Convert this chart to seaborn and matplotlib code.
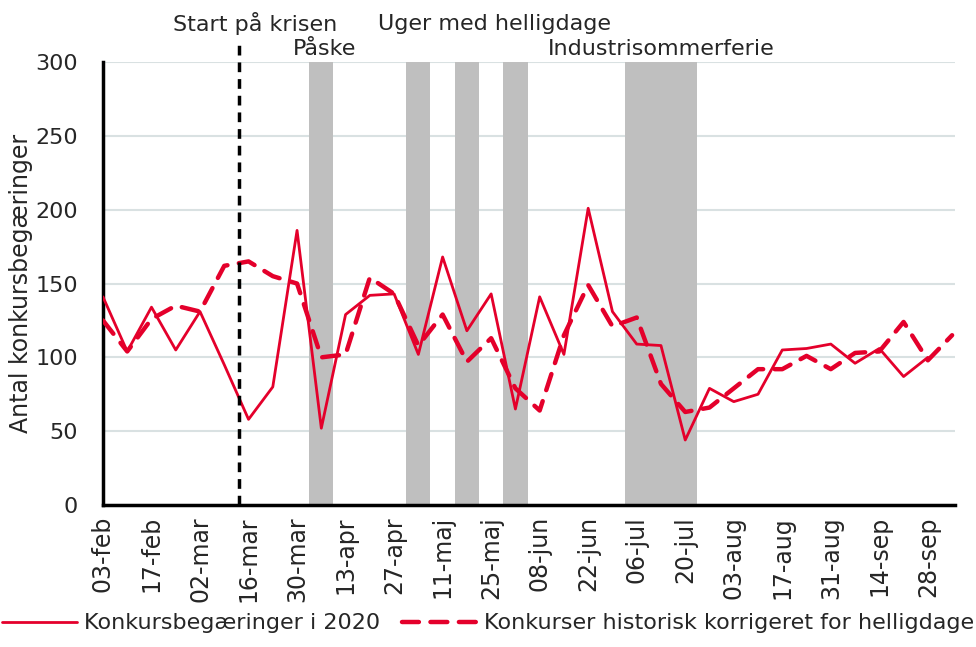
import numpy as np
import pandas as pd
import matplotlib
matplotlib.use("Agg")
import matplotlib.pyplot as plt
import matplotlib.transforms as mtransforms
import seaborn as sns
from matplotlib.lines import Line2D

weeks = ["03-feb", "10-feb", "17-feb", "24-feb", "02-mar", "09-mar", "16-mar", "23-mar",
         "30-mar", "06-apr", "13-apr", "20-apr", "27-apr", "04-maj", "11-maj", "18-maj",
         "25-maj", "01-jun", "08-jun", "15-jun", "22-jun", "29-jun", "06-jul", "13-jul",
         "20-jul", "27-jul", "03-aug", "10-aug", "17-aug", "24-aug", "31-aug", "07-sep",
         "14-sep", "21-sep", "28-sep", "05-okt"]

konkurs_2020 = [141, 104, 134, 105, 131, 95, 58, 80, 186, 52, 129, 142, 143, 102, 168, 118,
                143, 65, 141, 102, 201, 131, 109, 108, 44, 79, 70, 75, 105, 106, 109, 96,
                106, 87, 100]

historisk = [125, 104, 126, 135, 131, 162, 165, 155, 150, 100, 102, 154, 143, 108, 129, 97,
             113, 79, 64, 115, 149, 121, 127, 82, 63, 66, 79, 92, 92, 101, 92, 103,
             104, 124, 98, 115]

paaske_weeks = ["06-apr"]
helligdag_weeks = ["04-maj", "18-maj", "01-jun"]
sommerferie_weeks = ["06-jul", "13-jul", "20-jul"]
krise_start = 5.6  # week position (13-mar)

label_solid = "Konkursbegæringer i 2020"
label_dash = "Konkurser historisk korrigeret for helligdage"

sns.set_style("white")
plt.rcParams['font.family'] = ['DejaVu Sans']

idx = {w: i for i, w in enumerate(weeks)}
df = pd.DataFrame({
    "pos": list(range(len(konkurs_2020))) + list(range(len(historisk))),
    "værdi": konkurs_2020 + historisk,
    "serie": [label_solid] * len(konkurs_2020) + [label_dash] * len(historisk),
})

fig = plt.figure(figsize=(9.76, 6.47), dpi=100)
ax = fig.add_axes([0.1055, 0.2195, 0.8725, 0.6845])

red = "#E4002B"
grey = "#BFBFBF"
dash_pat = (3.8, 2.6)

# shaded holiday weeks
band_pos = [idx[w] for w in paaske_weeks + helligdag_weeks + sommerferie_weeks]
ax.bar(band_pos, [300] * len(band_pos), width=1.0, color=grey, zorder=1, linewidth=0)

sns.lineplot(data=df, x="pos", y="værdi", hue="serie", style="serie",
             palette=[red, red], dashes={label_solid: "", label_dash: dash_pat},
             ax=ax, zorder=3, legend=False)
lines = ax.get_lines()
lines[0].set_linewidth(2.0)
lines[1].set_linewidth(3.2)
lines[1].set_dash_capstyle("round")

ax.plot([krise_start, krise_start], [0, 312], color="black", lw=2.5,
        linestyle=(0, (2.8, 2.0)), clip_on=False, zorder=4)

ax.set_xlim(0, 35.1)
ax.set_ylim(0, 300)
ax.set_yticks(range(0, 301, 50))
ax.set_xticks(range(0, len(weeks), 2))
ax.set_xticklabels(weeks[::2], rotation=90, fontsize=17)
offset = mtransforms.ScaledTranslation(4 / 100, 0, fig.dpi_scale_trans)
for lab in ax.get_xticklabels():
    lab.set_transform(lab.get_transform() + offset)
ax.tick_params(axis='y', labelsize=16, length=0, pad=18)
ax.tick_params(axis='x', length=0, pad=8)
ax.yaxis.grid(True, color="#D9E1E2", linewidth=1.5)
ax.set_axisbelow(True)
for s in ["top", "right"]:
    ax.spines[s].set_visible(False)
ax.spines["left"].set_color("black")
ax.spines["left"].set_linewidth(2.5)
ax.spines["bottom"].set_color("black")
ax.spines["bottom"].set_linewidth(2.5)
ax.set_xlabel("")
ax.set_ylabel("Antal konkursbegæringer", fontsize=17, labelpad=2)

txt = dict(fontsize=16, ha="center", va="center", clip_on=False)
ax.text(6.26, 326, "Start på krisen", **txt)
ax.text(9.15, 309, "Påske", **txt)
ax.text(16.15, 326, "Uger med helligdage", **txt)
ax.text(23.0, 309, "Industrisommerferie", **txt)

handles = [Line2D([], [], color=red, lw=2.0),
           Line2D([], [], color=red, lw=3.2, linestyle=(0, dash_pat), dash_capstyle="round")]
fig.legend(handles, [label_solid, label_dash], loc="lower center",
           bbox_to_anchor=(0.5, -0.01), ncol=2, frameon=False, fontsize=16,
           handlelength=3.4, handletextpad=0.3, columnspacing=1.0)

fig.savefig("out.png", dpi=100)
